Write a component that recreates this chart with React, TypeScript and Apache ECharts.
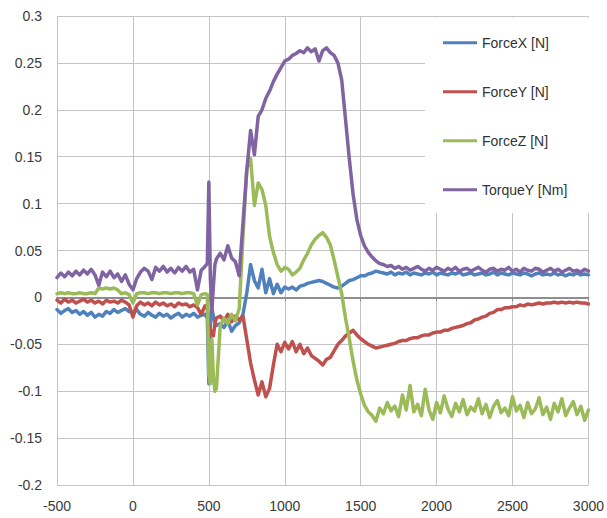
import React, { useEffect, useRef } from "react";
import * as echarts from "echarts";

const timeMs = [
  -500, -475, -450, -425, -400, -375, -350, -325, -300, -275,
  -250, -225, -200, -175, -150, -125, -100, -75, -50, -25,
  0, 25, 50, 75, 100, 125, 150, 175, 200, 225,
  250, 275, 300, 325, 350, 375, 400, 425, 450, 475,
  490, 500, 510, 520, 530, 540, 550,
  575, 600, 625, 650, 675, 700, 725, 750, 775, 800, 825, 850, 875, 900, 925, 950, 975, 1000,
  1025, 1050, 1075, 1100, 1125, 1150, 1175, 1200, 1225, 1250,
  1275, 1300, 1325, 1350, 1375, 1400, 1425, 1450, 1475, 1500,
  1525, 1550, 1575, 1600, 1625, 1650, 1675, 1700, 1725, 1750,
  1775, 1800, 1825, 1850, 1875, 1900, 1925, 1950, 1975, 2000,
  2025, 2050, 2075, 2100, 2125, 2150, 2175, 2200, 2225, 2250,
  2275, 2300, 2325, 2350, 2375, 2400, 2425, 2450, 2475, 2500,
  2525, 2550, 2575, 2600, 2625, 2650, 2675, 2700, 2725, 2750,
  2775, 2800, 2825, 2850, 2875, 2900, 2925, 2950, 2975, 3000,
];

const forceX = [
  -0.013, -0.017, -0.014, -0.012, -0.016, -0.014, -0.018, -0.015, -0.019, -0.016,
  -0.021, -0.018, -0.020, -0.015, -0.017, -0.013, -0.016, -0.014, -0.012, -0.015,
  -0.016, -0.013, -0.018, -0.020, -0.016, -0.019, -0.021, -0.017, -0.020, -0.018,
  -0.022, -0.019, -0.017, -0.021, -0.018, -0.020, -0.017, -0.021, -0.019, -0.018,
  -0.022, -0.092, -0.030, -0.012, -0.020, -0.026, -0.030,
  -0.028, -0.032, -0.025, -0.036, -0.030, -0.027, -0.018, 0.005, 0.035, 0.018, 0.010, 0.030, 0.005, 0.020, 0.004, 0.014, 0.005, 0.011,
  0.009, 0.011, 0.008, 0.012, 0.013, 0.015, 0.016, 0.017, 0.018, 0.017,
  0.015, 0.013, 0.011, 0.010, 0.012, 0.015, 0.018, 0.019, 0.021, 0.023,
  0.023, 0.025, 0.026, 0.028, 0.027, 0.026, 0.025, 0.027, 0.024, 0.026,
  0.025, 0.027, 0.024, 0.026, 0.025, 0.024, 0.026, 0.025, 0.027, 0.024,
  0.026, 0.025, 0.024, 0.026, 0.025, 0.027, 0.024, 0.025, 0.026, 0.024,
  0.025, 0.026, 0.024, 0.025, 0.027, 0.024, 0.026, 0.025, 0.024, 0.026,
  0.025, 0.024, 0.026, 0.025, 0.023, 0.025, 0.026, 0.024, 0.025, 0.024,
  0.026, 0.024, 0.025, 0.023, 0.025, 0.024, 0.026, 0.024, 0.025, 0.024,
];

const forceY = [
  -0.003, -0.006, -0.002, -0.005, -0.003, -0.006, -0.004, -0.002, -0.005, -0.003,
  -0.006, -0.004, -0.007, -0.003, -0.005, -0.004, -0.006, -0.003, -0.005, -0.008,
  -0.021, -0.009, -0.005, -0.008, -0.006, -0.009, -0.005, -0.008, -0.006, -0.009,
  -0.007, -0.010, -0.006, -0.008, -0.007, -0.010, -0.008, -0.011, -0.018, -0.009,
  -0.012, -0.030, -0.040, -0.036, -0.041, -0.028, -0.022,
  -0.020, -0.025, -0.018, -0.026, -0.020, -0.024, -0.020, -0.045, -0.070, -0.088, -0.104, -0.090, -0.106, -0.097, -0.072, -0.050, -0.058, -0.048,
  -0.055, -0.047, -0.058, -0.050, -0.060, -0.054, -0.062, -0.065, -0.068, -0.072,
  -0.066, -0.064, -0.057, -0.050, -0.046, -0.041, -0.038, -0.035, -0.040, -0.044,
  -0.047, -0.050, -0.052, -0.054, -0.053, -0.052, -0.051, -0.050, -0.049, -0.047,
  -0.046, -0.046, -0.044, -0.043, -0.043, -0.041, -0.040, -0.040, -0.038, -0.037,
  -0.037, -0.035, -0.035, -0.033, -0.032, -0.031, -0.030, -0.028, -0.027, -0.024,
  -0.023, -0.021, -0.020, -0.017, -0.016, -0.013, -0.013, -0.011, -0.011, -0.010,
  -0.010, -0.008, -0.009, -0.007, -0.008, -0.007, -0.006, -0.007, -0.006, -0.006,
  -0.005, -0.006, -0.005, -0.006, -0.005, -0.006, -0.005, -0.006, -0.006, -0.007,
];

const forceZ = [
  0.004, 0.005, 0.004, 0.005, 0.004, 0.004, 0.005, 0.004, 0.004, 0.005,
  0.004, 0.010, 0.009, 0.010, 0.009, 0.010, 0.008, 0.004, 0.005, 0.003,
  -0.006, 0.004, 0.005, 0.005, 0.004, 0.005, 0.005, 0.004, 0.005, 0.005,
  0.004, 0.005, 0.005, 0.004, 0.005, 0.005, 0.004, -0.008, 0.003, 0.004,
  0.003, -0.082, -0.092, -0.045, -0.085, -0.100, -0.097,
  -0.030, -0.022, -0.028, -0.018, -0.025, -0.012, 0.065, 0.138, 0.148, 0.098, 0.122, 0.115, 0.098, 0.065, 0.048, 0.035, 0.028, 0.032,
  0.030, 0.024, 0.027, 0.031, 0.040, 0.047, 0.056, 0.062, 0.066, 0.069,
  0.064, 0.056, 0.040, 0.022, 0.004, -0.022, -0.044, -0.068, -0.088, -0.103,
  -0.115, -0.122, -0.126, -0.132, -0.118, -0.124, -0.112, -0.121, -0.116, -0.127,
  -0.104, -0.120, -0.094, -0.122, -0.114, -0.126, -0.098, -0.120, -0.130, -0.112,
  -0.123, -0.105, -0.119, -0.127, -0.113, -0.122, -0.109, -0.125, -0.117, -0.121,
  -0.108, -0.124, -0.114, -0.128, -0.116, -0.110, -0.123, -0.118, -0.126, -0.106,
  -0.121, -0.115, -0.128, -0.112, -0.124, -0.119, -0.107, -0.125, -0.117, -0.130,
  -0.113, -0.122, -0.108, -0.126, -0.118, -0.111, -0.125, -0.116, -0.131, -0.120,
];

const torqueY = [
  0.021, 0.026, 0.022, 0.027, 0.023, 0.028, 0.024, 0.029, 0.025, 0.030,
  0.024, 0.013, 0.027, 0.022, 0.028, 0.021, 0.025, 0.017, 0.024, 0.014,
  0.008, 0.020, 0.027, 0.031, 0.028, 0.019, 0.032, 0.028, 0.033, 0.027,
  0.031, 0.026, 0.032, 0.028, 0.033, 0.027, 0.030, 0.008, 0.029, 0.033,
  0.036, 0.123, 0.020, -0.015, 0.012, 0.035, 0.041,
  0.047, 0.040, 0.055, 0.042, 0.038, 0.023, 0.080, 0.135, 0.178, 0.152, 0.193, 0.200, 0.212, 0.220, 0.230, 0.238, 0.245, 0.252,
  0.254, 0.258, 0.260, 0.263, 0.261, 0.266, 0.262, 0.265, 0.252, 0.263,
  0.266, 0.261, 0.258, 0.250, 0.232, 0.190, 0.148, 0.110, 0.083, 0.066,
  0.055, 0.048, 0.043, 0.039, 0.036, 0.035, 0.033, 0.034, 0.031, 0.033,
  0.030, 0.032, 0.029, 0.031, 0.033, 0.030, 0.028, 0.031, 0.029, 0.032,
  0.030, 0.028, 0.031, 0.029, 0.032, 0.028, 0.030, 0.031, 0.028, 0.030,
  0.032, 0.029, 0.027, 0.030, 0.031, 0.028, 0.030, 0.029, 0.032, 0.028,
  0.030, 0.027, 0.031, 0.029, 0.028, 0.031, 0.030, 0.027, 0.029, 0.031,
  0.028, 0.030, 0.027, 0.029, 0.031, 0.028, 0.029, 0.027, 0.030, 0.028,
];

const seriesNames = ["ForceX [N]", "ForceY [N]", "ForceZ [N]", "TorqueY [Nm]"];
const seriesValues = [forceX, forceY, forceZ, torqueY];
const seriesColors = ["#4F81BD", "#C0504D", "#9BBB59", "#8064A2"];

const FONT = "'Liberation Sans', Arial, sans-serif";
const GRID_COLOR = "#c4c4c4";

export default function App() {
  const ref = useRef<HTMLDivElement>(null);

  useEffect(() => {
    document.body.style.margin = "0";
    const chart = echarts.init(ref.current!, null, { renderer: "svg" });
    chart.setOption({
      animation: false,
      backgroundColor: "#ffffff",
      grid: { left: 57, right: 18, top: 16, bottom: 33, containLabel: false },
      xAxis: [
        {
          type: "value",
          min: -500,
          max: 3000,
          interval: 500,
          position: "bottom",
          axisLine: { show: false, onZero: false },
          axisTick: { show: false },
          axisLabel: {
            margin: 14,
            color: "#3a3a3a",
            fontSize: 14,
            fontFamily: FONT,
            formatter: (v: number) => String(v),
          },
          splitLine: { show: true, lineStyle: { color: GRID_COLOR, width: 1 } },
        },
        {
          type: "value",
          min: -500,
          max: 3000,
          interval: 500,
          position: "top",
          axisLine: { show: true, onZero: true, lineStyle: { color: "#8e8e8e", width: 2 } },
          axisTick: { show: true, inside: true, length: 4, lineStyle: { color: "#8e8e8e", width: 1 } },
          axisLabel: { show: false },
          splitLine: { show: false },
        },
      ],
      yAxis: {
        type: "value",
        min: -0.2,
        max: 0.3,
        interval: 0.05,
        axisLine: { show: false },
        axisTick: { show: false },
        axisLabel: {
          margin: 15,
          color: "#3a3a3a",
          fontSize: 14,
          fontFamily: FONT,
          formatter: (v: number) => String(Math.round(v * 100) / 100),
        },
        splitLine: { show: true, lineStyle: { color: GRID_COLOR, width: 1 } },
      },
      graphic: [
        {
          type: "rect",
          z: 5,
          shape: { x: 425, y: 17.5, width: 168, height: 195.5 },
          style: { fill: "#ffffff" },
        },
      ],
      legend: {
        orient: "vertical",
        left: 443,
        top: 34.7,
        padding: 0,
        itemGap: 33,
        itemWidth: 34,
        itemHeight: 3,
        icon: "rect",
        z: 10,
        selectedMode: false,
        textStyle: { color: "#333333", fontSize: 14, fontFamily: FONT, lineHeight: 16 },
        data: seriesNames,
      },
      series: seriesNames.map((name, k) => ({
        name,
        type: "line",
        xAxisIndex: 0,
        showSymbol: false,
        symbol: "none",
        color: seriesColors[k],
        lineStyle: { color: seriesColors[k], width: 3.5, join: "round", cap: "round" },
        data: timeMs.map((t, i) => [t, seriesValues[k][i]]),
      })),
    });
    return () => chart.dispose();
  }, []);

  return <div ref={ref} style={{ width: 607, height: 518 }} />;
}
